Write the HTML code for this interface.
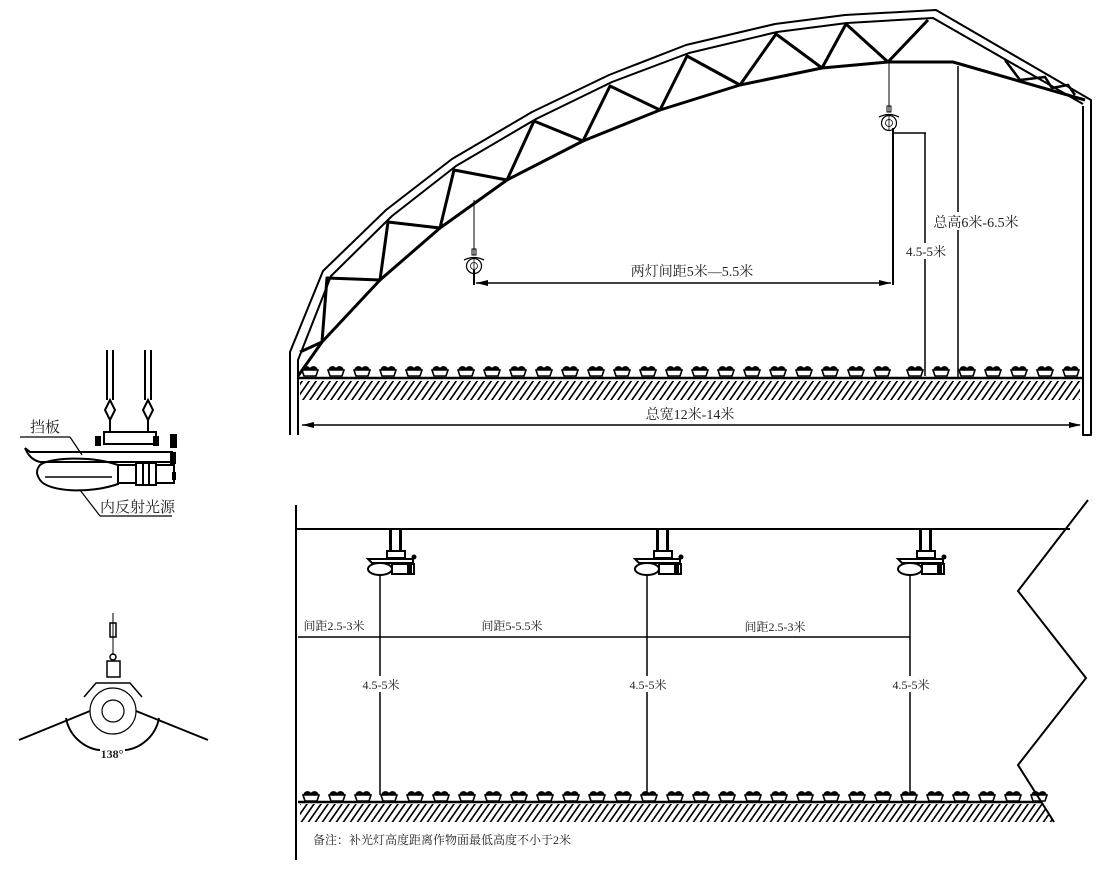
<!DOCTYPE html>
<html><head><meta charset="utf-8"><style>
html,body{margin:0;padding:0;background:#fff;}
svg{display:block;}
text{font-family:"Liberation Serif","Noto Serif CJK SC","Noto Sans CJK SC",serif;fill:#222;}
</style></head><body>
<svg width="1103" height="881" viewBox="0 0 1103 881" xmlns="http://www.w3.org/2000/svg">
<defs>
<pattern id="hatch" width="7" height="20" patternUnits="userSpaceOnUse" patternTransform="skewX(-35)">
<line x1="2" y1="0" x2="2" y2="20" stroke="#000" stroke-width="2"/>
</pattern>
<g id="plant">
<path d="M-8,0 L8,0 L6,6 L-6,6 Z" fill="none" stroke="#000" stroke-width="1.6"/>
<path d="M-7,0 C-6,-4 -2,-4 0,-1 C2,-4 6,-4 7,0" fill="#000" stroke="#000" stroke-width="1.5"/>
</g>
<g id="lampTop">
<line x1="0" y1="-20" x2="0" y2="-8" stroke="#000" stroke-width="1"/>
<rect x="-2" y="-14" width="4" height="6" fill="none" stroke="#000"/>
<path d="M-10,-3 Q0,-8 10,-3" fill="none" stroke="#000" stroke-width="1.3"/>
<circle cx="0" cy="3" r="7.5" fill="#fff" stroke="#000" stroke-width="1.2"/>
<circle cx="0" cy="3" r="3.5" fill="none" stroke="#000" stroke-width="0.8"/>
<line x1="0" y1="-6" x2="0" y2="10" stroke="#000" stroke-width="0.8"/>
</g>
<g id="lampSide">
<rect x="-8" y="0" width="3" height="22" fill="#000"/>
<rect x="2" y="0" width="3" height="22" fill="#000"/>
<rect x="-10" y="21" width="18" height="7" fill="#fff" stroke="#000" stroke-width="2"/>
<path d="M-29,29 L16,29 L16,33 L-25,33 Z" fill="#fff" stroke="#000" stroke-width="2"/>
<ellipse cx="-17" cy="39" rx="12" ry="6" fill="#fff" stroke="#000" stroke-width="2"/>
<rect x="-5" y="34" width="22" height="10" fill="#fff" stroke="#000" stroke-width="2"/>
<rect x="10" y="34" width="5" height="10" fill="#000"/>
<circle cx="17" cy="27" r="2.5" fill="#000"/>
</g>
</defs>

<!-- ===== TOP GREENHOUSE ===== -->
<g fill="none" stroke="#000" stroke-width="2" stroke-linejoin="round">
<polyline points="290,435 290,352 323,271 386,210 452,159 532,112 609,75 686,45 775,24 845,15 936,10 1091,100 1091,435 1083,435 1083,106"/>
<polyline points="298,435 298,360 331,276 392,216 456,166 536,119 612,82 689,53 777,32 847,23 933,18 1083,104"/>
<polyline stroke-width="3" points="298,376 322,342 380,280 440,228 507,180 583,141 660,110 740,85 822,68 888,62 953,62 1085,100"/>
</g>
<!-- truss webs -->
<polyline fill="none" stroke="#000" stroke-width="3" stroke-linejoin="round" points="300,352 322,342 327,278 380,280 388,222 440,228 454,170 507,180 534,121 583,141 610,86 660,110 687,56 740,85 776,34 822,68 846,24 888,62 928,20"/>
<polyline fill="none" stroke="#000" stroke-width="2.5" points="1005,60 1020,80 1045,77 1052,88 1068,85 1075,95"/>

<!-- ground top -->
<line x1="298" y1="378" x2="1083" y2="378" stroke="#000" stroke-width="2.5"/>
<rect x="300" y="381" width="780" height="19" fill="url(#hatch)"/>
<g>
<use href="#plant" x="310" y="370"/><use href="#plant" x="336" y="370"/><use href="#plant" x="362" y="370"/><use href="#plant" x="388" y="370"/><use href="#plant" x="414" y="370"/><use href="#plant" x="440" y="370"/><use href="#plant" x="466" y="370"/><use href="#plant" x="492" y="370"/><use href="#plant" x="518" y="370"/><use href="#plant" x="544" y="370"/><use href="#plant" x="570" y="370"/><use href="#plant" x="596" y="370"/><use href="#plant" x="622" y="370"/><use href="#plant" x="648" y="370"/><use href="#plant" x="674" y="370"/><use href="#plant" x="700" y="370"/><use href="#plant" x="726" y="370"/><use href="#plant" x="752" y="370"/><use href="#plant" x="778" y="370"/><use href="#plant" x="804" y="370"/><use href="#plant" x="830" y="370"/><use href="#plant" x="856" y="370"/><use href="#plant" x="882" y="370"/><use href="#plant" x="915" y="370"/><use href="#plant" x="941" y="370"/><use href="#plant" x="967" y="370"/><use href="#plant" x="993" y="370"/><use href="#plant" x="1019" y="370"/><use href="#plant" x="1045" y="370"/><use href="#plant" x="1071" y="370"/>
</g>

<!-- width dimension -->
<line x1="302" y1="425" x2="1080" y2="425" stroke="#000" stroke-width="1.5"/>
<path d="M302,425 L314,422 L314,428 Z M1081,425 L1069,422 L1069,428 Z" fill="#000"/>
<rect x="636" y="404" width="108" height="18" fill="#fff"/>
<text x="690" y="419" font-size="14" text-anchor="middle">总宽12米-14米</text>

<!-- lamps top -->
<line x1="474" y1="200" x2="474" y2="248" stroke="#000" stroke-width="1"/>
<use href="#lampTop" x="474" y="263"/>
<line x1="889" y1="62" x2="889" y2="104" stroke="#000" stroke-width="1"/>
<use href="#lampTop" x="889" y="120"/>
<line x1="474" y1="270" x2="474" y2="285" stroke="#000" stroke-width="2"/>
<line x1="893" y1="128" x2="893" y2="285" stroke="#000" stroke-width="2"/>
<line x1="476" y1="283" x2="891" y2="283" stroke="#000" stroke-width="1.5"/>
<path d="M476,283 L488,280 L488,286 Z M891,283 L879,280 L879,286 Z" fill="#000"/>
<text x="692" y="276" font-size="14" text-anchor="middle">两灯间距5米—5.5米</text>
<line x1="893" y1="133" x2="926" y2="133" stroke="#000" stroke-width="1.5"/>
<line x1="925" y1="133" x2="925" y2="376" stroke="#000" stroke-width="1.5"/>
<rect x="905" y="243" width="42" height="16" fill="#fff"/>
<text x="926" y="256" font-size="13" text-anchor="middle">4.5-5米</text>
<line x1="958" y1="66" x2="958" y2="378" stroke="#000" stroke-width="1.5"/>
<rect x="932" y="212" width="92" height="18" fill="#fff"/>
<text x="976" y="227" font-size="14" text-anchor="middle">总高6米-6.5米</text>

<!-- ===== LEFT DETAIL LAMP ===== -->
<g fill="none" stroke="#000" stroke-width="2">
<line x1="107" y1="350" x2="107" y2="400"/><line x1="113" y1="350" x2="113" y2="400"/>
<line x1="145" y1="350" x2="145" y2="400"/><line x1="151" y1="350" x2="151" y2="400"/>
<path d="M110,400 L105,410 L110,420 L115,410 Z"/>
<path d="M148,400 L143,410 L148,420 L153,410 Z"/>
<line x1="110" y1="420" x2="110" y2="432"/><line x1="148" y1="420" x2="148" y2="432"/>
<rect x="104" y="432" width="52" height="12"/>
<path d="M25,448 L30,452 L172,452 L172,462 L40,462 C32,460 28,455 25,448"/>
<path d="M40,465 C48,458 90,455 118,465 L118,484 C90,494 48,492 40,480 C36,474 36,470 40,465 Z"/>
<rect x="118" y="465" width="18" height="18"/>
<rect x="136" y="463" width="20" height="22"/>
<rect x="156" y="465" width="18" height="18"/>
<line x1="143" y1="463" x2="143" y2="485"/><line x1="149" y1="463" x2="149" y2="485"/>
<line x1="20" y1="437" x2="70" y2="437" stroke-width="1.2"/>
<line x1="70" y1="437" x2="82" y2="455" stroke-width="1.2"/>
<line x1="80" y1="490" x2="100" y2="516" stroke-width="1.2"/>
<line x1="100" y1="516" x2="172" y2="516" stroke-width="1.2"/>
</g>
<rect x="95" y="436" width="6" height="10" fill="#000"/><rect x="153" y="436" width="6" height="10" fill="#000"/>
<rect x="170" y="434" width="7" height="14" fill="#000"/><rect x="170" y="452" width="6" height="12" fill="#000"/><rect x="172" y="472" width="4" height="8" fill="#000"/>
<line x1="45" y1="477" x2="112" y2="477" stroke="#000" stroke-width="1.5"/>
<text x="30" y="432" font-size="15" font-family="Liberation Sans,Noto Sans CJK SC,sans-serif">挡板</text>
<text x="100" y="512" font-size="15" font-family="Liberation Sans,Noto Sans CJK SC,sans-serif">内反射光源</text>

<!-- bottom-left fixture -->
<g fill="none" stroke="#000">
<line x1="113" y1="613" x2="113" y2="655" stroke-width="1"/>
<rect x="110" y="623" width="6" height="14" stroke-width="1.5"/>
<circle cx="113" cy="657" r="3" stroke-width="1.5"/>
<rect x="107" y="661" width="13" height="16" stroke-width="1.5"/>
<path d="M84,697 L96,683 L130,683 L142,697" stroke-width="1.5"/>
<circle cx="113" cy="711" r="23" stroke-width="1.2"/>
<circle cx="113" cy="711" r="11" stroke-width="1.2"/>
<path d="M90,711 L19,740 M136,711 L208,740" stroke-width="2"/>
<path d="M66,718 C70,740 90,750 100,750 M159,718 C155,740 135,750 125,750" stroke-width="2"/>
</g>
<text x="112" y="758" font-size="12" text-anchor="middle" font-family="Liberation Sans,sans-serif" font-weight="bold">138°</text>

<!-- ===== BOTTOM SECTION ===== -->
<line x1="296" y1="505" x2="296" y2="860" stroke="#000" stroke-width="2"/>
<line x1="296" y1="529" x2="1070" y2="529" stroke="#000" stroke-width="2"/>
<polyline fill="none" stroke="#000" stroke-width="2" points="1088,500 1018,591 1086,678 1018,765 1054,822"/>
<line x1="298" y1="802" x2="1042" y2="802" stroke="#000" stroke-width="2.5"/>
<clipPath id="gc"><path d="M300,804 L1043,804 L1054,822 L300,822 Z"/></clipPath>
<rect x="300" y="804" width="760" height="18" fill="url(#hatch)" clip-path="url(#gc)"/>
<g>
<use href="#plant" x="311" y="795"/><use href="#plant" x="337" y="795"/><use href="#plant" x="363" y="795"/><use href="#plant" x="389" y="795"/><use href="#plant" x="415" y="795"/><use href="#plant" x="441" y="795"/><use href="#plant" x="467" y="795"/><use href="#plant" x="493" y="795"/><use href="#plant" x="519" y="795"/><use href="#plant" x="545" y="795"/><use href="#plant" x="571" y="795"/><use href="#plant" x="597" y="795"/><use href="#plant" x="623" y="795"/><use href="#plant" x="649" y="795"/><use href="#plant" x="675" y="795"/><use href="#plant" x="701" y="795"/><use href="#plant" x="727" y="795"/><use href="#plant" x="753" y="795"/><use href="#plant" x="779" y="795"/><use href="#plant" x="805" y="795"/><use href="#plant" x="831" y="795"/><use href="#plant" x="857" y="795"/><use href="#plant" x="883" y="795"/><use href="#plant" x="909" y="795"/><use href="#plant" x="935" y="795"/><use href="#plant" x="961" y="795"/><use href="#plant" x="987" y="795"/><use href="#plant" x="1013" y="795"/><use href="#plant" x="1039" y="795"/>
</g>
<use href="#lampSide" x="397" y="530"/>
<use href="#lampSide" x="664" y="530"/>
<use href="#lampSide" x="927" y="530"/>
<g stroke="#000" stroke-width="1.5">
<line x1="380" y1="575" x2="380" y2="795"/>
<line x1="647" y1="575" x2="647" y2="795"/>
<line x1="910" y1="575" x2="910" y2="795"/>
<line x1="298" y1="637" x2="910" y2="637"/>
</g>
<rect x="360" y="676" width="42" height="16" fill="#fff"/>
<rect x="627" y="676" width="42" height="16" fill="#fff"/>
<rect x="890" y="676" width="42" height="16" fill="#fff"/>
<text x="381" y="689" font-size="12" text-anchor="middle">4.5-5米</text>
<text x="648" y="689" font-size="12" text-anchor="middle">4.5-5米</text>
<text x="911" y="689" font-size="12" text-anchor="middle">4.5-5米</text>
<text x="334" y="630" font-size="12" text-anchor="middle">间距2.5-3米</text>
<text x="512" y="630" font-size="12" text-anchor="middle">间距5-5.5米</text>
<text x="775" y="631" font-size="12" text-anchor="middle">间距2.5-3米</text>
<text x="313" y="844" font-size="12">备注：补光灯高度距离作物面最低高度不小于2米</text>
</svg>
</body></html>
